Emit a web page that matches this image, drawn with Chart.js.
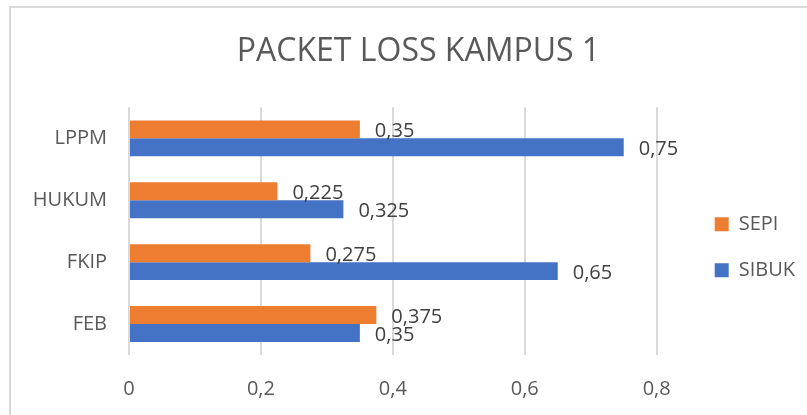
<!DOCTYPE html>
<html>
<head>
<meta charset="utf-8">
<script src="https://cdn.jsdelivr.net/npm/chart.js@4.4.1/dist/chart.umd.min.js"></script>
<style>
  html, body { margin: 0; padding: 0; background: #ffffff; }
  #wrap { position: relative; width: 807px; height: 415px; overflow: hidden; background: #ffffff; }
  #frame { position: absolute; left: 9px; top: 6px; width: 820px; height: 430px; border: 2px solid #d9d9d9; box-sizing: border-box; }
  canvas { position: absolute; left: 0; top: 0; }
</style>
</head>
<body>
<div id="wrap">
  <div id="frame"></div>
  <canvas id="c" width="807" height="415"></canvas>
</div>
<script>
const categories = ['LPPM', 'HUKUM', 'FKIP', 'FEB'];
const seriesNames = ['SEPI', 'SIBUK'];
const sepiValues = [0.35, 0.225, 0.275, 0.375];
const sibukValues = [0.75, 0.325, 0.65, 0.35];
const xTicks = [0, 0.2, 0.4, 0.6, 0.8];
const titleText = 'PACKET LOSS KAMPUS 1';

const FONT = "'Open Sans', 'Liberation Sans', sans-serif";
const fmt = v => String(v).replace('.', ',');

const dataLabels = {
  id: 'dataLabels',
  afterDatasetsDraw(chart) {
    const ctx = chart.ctx;
    ctx.save();
    ctx.font = "20px " + FONT;
    ctx.fillStyle = '#404040';
    ctx.textAlign = 'left';
    ctx.textBaseline = 'middle';
    chart.data.datasets.forEach((ds, di) => {
      const meta = chart.getDatasetMeta(di);
      meta.data.forEach((el, i) => {
        ctx.fillText(fmt(ds.data[i]), el.x + 15, el.y + 2);
      });
    });
    ctx.restore();
  }
};

new Chart(document.getElementById('c'), {
  type: 'bar',
  data: {
    labels: categories,
    datasets: [
      { label: seriesNames[0], data: sepiValues, backgroundColor: '#ED7D31', borderWidth: 0 },
      { label: seriesNames[1], data: sibukValues, backgroundColor: '#4472C4', borderWidth: 0 }
    ]
  },
  options: {
    indexAxis: 'y',
    responsive: false,
    animation: false,
    devicePixelRatio: 1,
    layout: { padding: { top: 33, left: 32, right: 2, bottom: 15 } },
    datasets: { bar: { categoryPercentage: 0.58, barPercentage: 1.0 } },
    scales: {
      x: {
        min: 0, max: 0.8,
        afterBuildTicks(scale) { scale.ticks = xTicks.map(v => ({ value: v })); },
        afterFit(scale) { scale.height = 45; },
        ticks: {
          callback: v => fmt(Math.round(v * 10) / 10),
          font: { family: FONT, size: 20 },
          color: '#595959',
          padding: 22
        },
        grid: { color: '#d9d9d9', lineWidth: 2, drawTicks: false },
        border: { display: false }
      },
      y: {
        afterFit(scale) { scale.width = 97; },
        ticks: {
          font: { family: FONT, size: 20 },
          color: '#595959',
          padding: 22
        },
        grid: { display: false, drawTicks: false },
        border: { display: false }
      },
      gap: {
        type: 'category',
        position: 'right',
        labels: categories,
        ticks: { display: false },
        grid: { display: false, drawTicks: false },
        border: { display: false },
        afterFit(scale) { scale.width = 32; }
      }
    },
    plugins: {
      title: {
        display: true,
        text: titleText,
        font: { family: FONT, size: 32, weight: 'normal' },
        color: '#595959',
        padding: { top: 0, bottom: 36 }
      },
      legend: {
        position: 'right',
        fullSize: false,
        title: { display: true, text: ' ', font: { size: 10 }, padding: 10 },
        labels: {
          font: { family: FONT, size: 20 },
          color: '#595959',
          boxWidth: 14,
          boxHeight: 14,
          padding: 26
        }
      },
      tooltip: { enabled: false }
    }
  },
  plugins: [dataLabels]
});
</script>
</body>
</html>
